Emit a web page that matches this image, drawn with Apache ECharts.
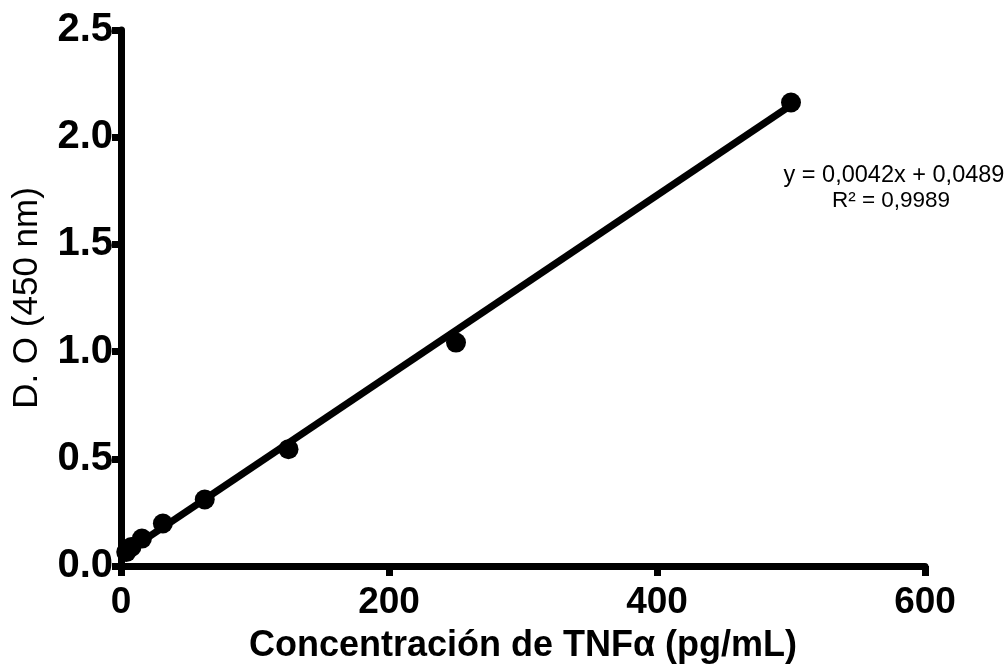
<!DOCTYPE html>
<html>
<head>
<meta charset="utf-8">
<script src="https://cdn.jsdelivr.net/npm/echarts@6/dist/echarts.min.js"></script>
<style>
  html, body { margin: 0; padding: 0; background: #fff; }
  #chart { width: 1008px; height: 671px; }
</style>
</head>
<body>
<div id="chart"></div>
<script>
// curva estandar TNFa
var conc = [3.9, 7.8, 15.6, 31.25, 62.5, 125, 250, 500];
var od = [0.065, 0.089, 0.128, 0.198, 0.310, 0.545, 1.042, 2.162];
// recta de ajuste (extremos)
var fitX = [0, 500];
var fitY = [0.049, 2.149];
var xTicks = [0, 200, 400, 600];
var yTicks = [0, 0.5, 1.0, 1.5, 2.0, 2.5];
var eqText = 'y = 0,0042x + 0,0489';
var r2Text = 'R² = 0,9989';

var font = "'Liberation Sans', Arial, sans-serif";

var myChart = echarts.init(document.getElementById('chart'));
myChart.setOption({
  animation: false,
  grid: {
    left: 121,
    right: 83,
    top: 30,
    bottom: 105,
    outerBoundsMode: 'none'
  },
  xAxis: {
    type: 'value',
    min: xTicks[0],
    max: xTicks[xTicks.length - 1],
    interval: 200,
    name: 'Concentración de TNFα (pg/mL)',
    nameLocation: 'middle',
    nameGap: 62,
    nameTextStyle: { fontFamily: font, fontSize: 36, fontWeight: 'bold', color: '#000' },
    splitLine: { show: false },
    axisLine: { show: true, lineStyle: { color: '#000', width: 7 } },
    axisTick: { show: true, inside: false, length: 10, lineStyle: { color: '#000', width: 7 } },
    axisLabel: { margin: 18, fontFamily: font, fontSize: 37, fontWeight: 'bold', color: '#000' }
  },
  yAxis: {
    type: 'value',
    min: yTicks[0],
    max: yTicks[yTicks.length - 1],
    interval: 0.5,
    name: 'D. O (450 nm)',
    nameLocation: 'middle',
    nameGap: 76,
    nameTextStyle: { fontFamily: font, fontSize: 35, color: '#000' },
    splitLine: { show: false },
    axisLine: { show: true, lineStyle: { color: '#000', width: 7 } },
    axisTick: { show: true, inside: false, length: 9, lineStyle: { color: '#000', width: 7 } },
    axisLabel: {
      margin: 8,
      fontFamily: font, fontSize: 40, fontWeight: 'bold', color: '#000',
      formatter: function (v) { return v.toFixed(1); }
    }
  },
  graphic: [
    {
      type: 'text', x: 894, y: 164,
      style: { text: eqText, fontFamily: font, fontSize: 23.5, fill: '#000', textAlign: 'center' }
    },
    {
      type: 'text', x: 891, y: 189,
      style: { text: r2Text, fontFamily: font, fontSize: 22.5, fill: '#000', textAlign: 'center' }
    }
  ],
  series: [
    {
      name: 'ajuste',
      type: 'line',
      data: fitX.map(function (x, i) { return [x, fitY[i]]; }),
      showSymbol: false,
      symbol: 'none',
      lineStyle: { color: '#000', width: 7 },
      z: 2
    },
    {
      name: 'estandares',
      type: 'scatter',
      data: conc.map(function (x, i) { return [x, od[i]]; }),
      symbol: 'circle',
      symbolSize: 20,
      itemStyle: { color: '#000', opacity: 1 },
      z: 3
    }
  ]
});
</script>
</body>
</html>
